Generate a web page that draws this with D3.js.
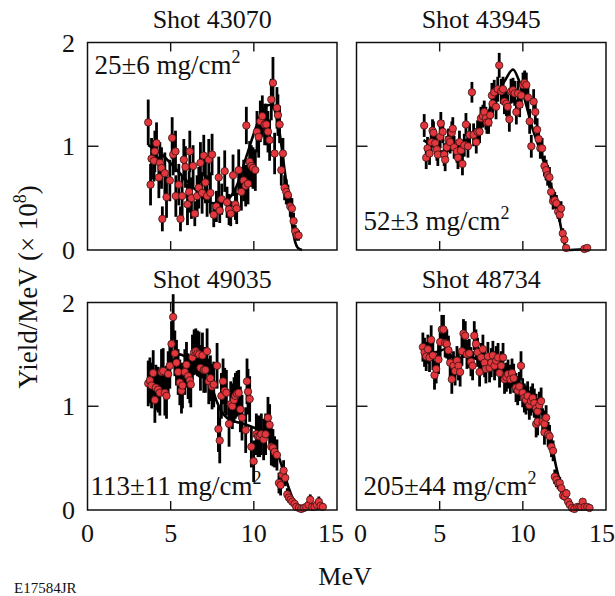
<!DOCTYPE html>
<html>
<head>
<meta charset="utf-8">
<script src="https://cdn.jsdelivr.net/npm/d3@7"></script>
<style>
  body { margin: 0; background: #fff; }
  text { font-family: "Liberation Serif", "Times New Roman", serif; fill: #111; }
</style>
</head>
<body>
<div id="chart"></div>
<script>
// panel titles and areal-density labels
const shots = ["Shot 43070", "Shot 43945", "Shot 49035", "Shot 48734"];
const densities = ["25±6", "52±3", "113±11", "205±44"];
const xTicks = [0, 5, 10, 15];
const yTicks = [0, 1, 2];

// measured points: [MeV, yield, error]
const shot43070 = [
  [3.65,1.23,0.22],[3.79,0.63,0.2],[3.85,0.88,0.2],[4.0,0.86,0.2],[4.05,0.95,0.2],[4.15,1.03,0.2],
  [4.29,0.70,0.2],[4.35,0.84,0.2],[4.45,0.79,0.2],[4.5,0.30,0.12],[4.65,0.74,0.2],[4.75,0.51,0.2],
  [4.95,0.67,0.2],[5.09,1.08,0.2],[5.15,0.92,0.2],[5.29,0.95,0.2],[5.31,0.52,0.2],[5.49,0.63,0.2],
  [5.59,0.30,0.12],[5.69,0.52,0.2],[5.79,0.87,0.2],[5.89,0.80,0.2],[6.01,0.44,0.2],[6.11,0.56,0.2],
  [6.15,0.95,0.2],[6.25,0.50,0.2],[6.35,0.81,0.2],[6.45,0.35,0.12],[6.59,0.52,0.2],[6.69,0.60,0.2],
  [6.79,0.84,0.2],[6.89,0.55,0.2],[6.99,0.91,0.2],[7.09,0.65,0.2],[7.19,0.52,0.2],[7.29,0.87,0.2],
  [7.39,0.55,0.2],[7.49,0.92,0.2],[7.59,0.34,0.12],[7.75,0.42,0.15],[7.89,0.70,0.2],[7.95,0.38,0.12],
  [8.07,0.49,0.15],[8.25,0.76,0.2],[8.39,0.46,0.15],[8.51,0.39,0.15],[8.61,0.35,0.12],[8.75,0.72,0.2],
  [8.89,0.44,0.15],[8.97,0.40,0.15],[9.09,0.77,0.2],[9.25,0.56,0.18],[9.39,0.67,0.2],[9.51,0.62,0.2],
  [9.55,1.20,0.18],[9.65,0.64,0.2],[9.75,0.85,0.2],[9.85,0.81,0.2],[9.95,0.79,0.2],[10.09,0.77,0.2],
  [10.19,1.14,0.2],[10.29,1.09,0.2],[10.39,1.24,0.2],[10.51,1.29,0.2],[10.65,1.21,0.2],[10.75,1.21,0.2],
  [10.85,1.14,0.2],[10.95,1.06,0.2],[11.05,1.45,0.2],[11.15,1.61,0.25],[11.25,0.93,0.2],[11.39,1.37,0.2],
  [11.45,1.30,0.2],[11.55,1.21,0.18],[11.65,0.77,0.15],[11.75,0.93,0.15],[11.85,0.60,0.12],[11.95,0.56,0.12],
  [12.05,0.53,0.1],[12.19,0.42,0.1],[12.29,0.40,0.1],[12.39,0.28,0.08],[12.49,0.18,0.06],[12.59,0.14,0.05],
  [12.69,0.14,0.05]
];
const shot43945 = [
  [4.07,1.20,0.11],[4.19,0.89,0.11],[4.27,0.98,0.11],[4.39,0.93,0.11],[4.49,1.04,0.11],[4.57,1.15,0.11],
  [4.63,1.13,0.11],[4.73,1.03,0.11],[4.83,0.97,0.11],[4.89,0.92,0.11],[5.03,1.09,0.11],[5.07,1.22,0.11],
  [5.19,1.14,0.11],[5.27,0.92,0.11],[5.33,0.87,0.11],[5.43,0.99,0.11],[5.53,1.06,0.11],[5.63,1.04,0.11],
  [5.73,1.13,0.11],[5.79,1.17,0.11],[5.87,0.99,0.11],[6.04,0.95,0.11],[6.10,0.89,0.11],[6.19,1.04,0.11],
  [6.28,0.96,0.11],[6.37,0.83,0.11],[6.48,1.01,0.11],[6.58,1.21,0.11],[6.70,1.00,0.11],[6.80,1.11,0.11],
  [6.94,1.52,0.1],[7.04,1.11,0.11],[7.20,1.04,0.11],[7.28,1.14,0.11],[7.40,1.14,0.11],[7.48,1.27,0.11],
  [7.60,1.29,0.11],[7.68,1.33,0.11],[7.78,1.27,0.11],[7.84,1.23,0.11],[7.94,1.23,0.11],[8.04,1.30,0.11],
  [8.14,1.49,0.12],[8.18,1.41,0.12],[8.28,1.52,0.12],[8.39,1.38,0.12],[8.49,1.55,0.12],[8.58,1.78,0.12],
  [8.70,1.53,0.12],[8.81,1.55,0.12],[8.89,1.43,0.12],[9.01,1.41,0.12],[9.09,1.38,0.12],[9.19,1.26,0.12],
  [9.29,1.53,0.12],[9.41,1.54,0.12],[9.51,1.51,0.12],[9.61,1.33,0.12],[9.71,1.51,0.12],[9.81,1.40,0.12],
  [9.91,1.49,0.12],[10.01,1.59,0.12],[10.11,1.61,0.12],[10.21,1.59,0.12],[10.31,1.47,0.12],[10.41,1.24,0.12],
  [10.51,1.00,0.11],[10.65,1.43,0.12],[10.75,1.33,0.12],[10.86,1.16,0.11],[10.95,1.07,0.11],[11.05,0.98,0.1],
  [11.16,0.98,0.1],[11.30,0.81,0.1],[11.40,0.77,0.1],[11.49,0.72,0.1],[11.60,0.70,0.1],[11.70,0.56,0.09],
  [11.82,0.47,0.08],[11.92,0.48,0.08],[12.02,0.45,0.08],[12.12,0.37,0.07],[12.22,0.34,0.07],[12.30,0.40,0.07],
  [12.40,0.16,0.05],[12.50,0.10,0.04],[12.60,0.02,0.02],[13.70,0.01,0.02],[13.87,0.02,0.02]
];
const shot49035 = [
  [3.65,1.22,0.22],[3.75,1.25,0.22],[3.85,1.20,0.22],[3.95,1.32,0.22],[4.05,1.06,0.22],[4.11,1.18,0.22],
  [4.25,1.16,0.22],[4.35,1.13,0.22],[4.45,1.33,0.22],[4.55,1.34,0.22],[4.65,1.13,0.22],[4.75,1.10,0.22],
  [4.85,1.31,0.22],[4.95,1.39,0.22],[5.05,1.60,0.22],[5.15,1.86,0.22],[5.25,1.51,0.22],[5.35,1.42,0.22],
  [5.45,1.33,0.22],[5.55,1.23,0.22],[5.65,1.15,0.22],[5.71,1.20,0.22],[5.85,1.33,0.22],[5.95,1.40,0.22],
  [6.05,1.29,0.22],[6.15,1.25,0.22],[6.21,1.21,0.22],[6.31,1.47,0.22],[6.41,1.52,0.22],[6.51,1.53,0.22],
  [6.61,1.51,0.22],[6.71,1.50,0.22],[6.79,1.37,0.22],[6.91,1.49,0.22],[6.99,1.35,0.22],[7.09,1.35,0.22],
  [7.19,1.53,0.22],[7.29,1.24,0.22],[7.39,1.27,0.22],[7.49,1.19,0.22],[7.59,1.21,0.22],[7.79,1.39,0.22],
  [7.87,0.78,0.22],[7.95,0.67,0.22],[8.05,1.10,0.22],[8.15,1.24,0.22],[8.25,1.15,0.22],[8.35,1.13,0.22],
  [8.51,0.83,0.22],[8.61,1.02,0.22],[8.71,1.00,0.22],[8.81,1.06,0.22],[8.89,1.10,0.22],[8.99,1.12,0.22],
  [9.09,1.13,0.22],[9.19,0.97,0.22],[9.29,0.89,0.22],[9.51,0.77,0.22],[9.59,1.24,0.22],[9.65,1.14,0.22],
  [9.75,1.07,0.22],[9.85,0.61,0.2],[9.99,0.47,0.2],[10.15,0.73,0.2],[10.25,0.71,0.2],[10.35,0.71,0.2],
  [10.45,0.73,0.2],[10.59,0.68,0.2],[10.71,0.73,0.2],[10.85,0.89,0.2],[10.95,0.82,0.2],[11.05,0.61,0.18],
  [11.15,0.60,0.18],[11.25,0.56,0.15],[11.39,0.53,0.15],[11.51,0.26,0.1],[11.61,0.24,0.1],[11.71,0.34,0.1],
  [11.79,0.38,0.1],[11.89,0.31,0.08],[12.01,0.15,0.06],[12.11,0.12,0.05],[12.21,0.10,0.04],[12.31,0.08,0.04],
  [12.45,0.06,0.03],[12.55,0.03,0.03],[12.71,0.02,0.03],[12.85,0.01,0.03],[13.01,0.02,0.03],[13.15,0.03,0.03],
  [13.29,0.05,0.04],[13.39,0.10,0.05],[13.51,0.03,0.03],[13.65,0.03,0.03],[13.79,0.05,0.04],[13.91,0.08,0.05],
  [14.01,0.04,0.03],[14.15,0.03,0.03]
];
const shot48734 = [
  [3.99,1.57,0.14],[4.09,1.52,0.14],[4.19,1.48,0.14],[4.29,1.55,0.14],[4.39,1.47,0.14],[4.49,1.64,0.14],
  [4.59,1.49,0.14],[4.69,1.30,0.14],[4.79,1.36,0.14],[4.93,1.45,0.14],[5.03,1.62,0.14],[5.13,1.74,0.14],
  [5.23,1.74,0.14],[5.33,1.61,0.14],[5.43,1.60,0.14],[5.53,1.54,0.14],[5.63,1.42,0.14],[5.73,1.26,0.14],
  [5.83,1.39,0.14],[5.93,1.34,0.14],[6.04,1.44,0.14],[6.13,1.39,0.14],[6.23,1.33,0.14],[6.34,1.53,0.14],
  [6.43,1.70,0.14],[6.54,1.68,0.14],[6.64,1.50,0.14],[6.78,1.51,0.14],[6.88,1.43,0.14],[6.98,1.39,0.14],
  [7.08,1.68,0.14],[7.18,1.60,0.14],[7.28,1.52,0.14],[7.40,1.33,0.14],[7.50,1.47,0.14],[7.60,1.55,0.14],
  [7.70,1.42,0.14],[7.78,1.36,0.14],[7.90,1.48,0.14],[8.00,1.37,0.14],[8.10,1.42,0.14],[8.20,1.49,0.14],
  [8.30,1.39,0.14],[8.40,1.44,0.14],[8.51,1.47,0.14],[8.60,1.32,0.14],[8.70,1.39,0.14],[8.81,1.47,0.14],
  [8.90,1.26,0.14],[9.01,1.28,0.14],[9.11,1.31,0.14],[9.25,1.26,0.14],[9.35,1.32,0.14],[9.45,1.27,0.14],
  [9.59,1.18,0.14],[9.69,1.15,0.14],[9.79,1.19,0.14],[9.89,1.39,0.14],[9.99,1.13,0.14],[10.09,1.08,0.14],
  [10.19,1.06,0.14],[10.29,1.10,0.14],[10.39,1.01,0.14],[10.49,1.05,0.14],[10.59,1.08,0.14],[10.69,1.03,0.14],
  [10.80,0.98,0.14],[10.80,0.83,0.13],[10.89,0.95,0.13],[10.89,0.85,0.13],[10.99,1.01,0.13],[11.10,1.05,0.13],
  [11.19,0.85,0.13],[11.30,0.83,0.13],[11.30,0.75,0.12],[11.40,0.89,0.12],[11.52,0.73,0.12],[11.61,0.71,0.11],
  [11.72,0.61,0.1],[11.82,0.57,0.1],[11.92,0.32,0.07],[12.02,0.29,0.07],[12.12,0.26,0.06],[12.22,0.26,0.06],
  [12.32,0.21,0.05],[12.42,0.14,0.04],[12.52,0.13,0.04],[12.62,0.16,0.04],[12.72,0.08,0.03],[12.82,0.05,0.03],
  [12.96,0.02,0.02],[13.10,0.01,0.02],[13.27,0.03,0.02],[13.40,0.03,0.02],[13.51,0.03,0.02],[13.60,0.08,0.03],
  [13.72,0.03,0.02],[13.87,0.03,0.02],[14.01,0.02,0.02]
];

// fitted spectra: [MeV, yield]
const fit43070 = [[3.65,1.01],[4.4,0.93],[5.55,0.74],[6.5,0.58],[7.55,0.45],[8.35,0.48],[8.95,0.61],[9.55,0.90],
  [10.15,1.19],[10.65,1.37],[10.95,1.40],[11.25,1.35],[11.55,1.13],[11.85,0.77],[12.15,0.42],[12.45,0.10],[12.65,0.02],[12.9,0.0]];
const fit43945 = [[4.03,1.06],[4.6,1.0],[5.13,0.95],[6.13,1.0],[7.34,1.19],[8.34,1.45],[8.95,1.64],[9.41,1.74],[9.75,1.64],
  [10.15,1.43],[10.55,1.19],[10.95,1.0],[11.36,0.80],[11.76,0.58],[12.16,0.32],[12.56,0.03],[12.66,0.0],[13.77,0.01]];
const fit49035 = [[3.65,1.23],[4.35,1.34],[4.95,1.40],[5.55,1.50],[5.95,1.47],[6.35,1.42],[6.55,1.47],[6.95,1.40],[7.35,1.29],
  [7.55,1.15],[7.95,0.98],[8.55,0.87],[9.15,0.84],[9.75,0.81],[10.35,0.77],[10.95,0.71],[11.35,0.58],[11.75,0.39],
  [12.15,0.19],[12.51,0.05],[12.85,0.01],[14.15,0.01]];
const fit48734 = [[3.93,1.57],[4.73,1.52],[5.33,1.55],[5.93,1.45],[6.54,1.48],[7.34,1.45],[8.14,1.42],[8.95,1.34],[9.55,1.26],
  [10.15,1.16],[10.75,1.05],[11.16,0.94],[11.46,0.77],[11.76,0.61],[12.0,0.42],[12.26,0.26],[12.56,0.10],[12.86,0.02],[14.07,0.01]];

const points = [shot43070, shot43945, shot49035, shot48734];
const fits = [fit43070, fit43945, fit49035, fit48734];

const W = 615, H = 596;
const pw = 249.5, ph = 207.5;
const lefts = [87.5, 356.5], tops = [42.5, 302.5];
// where the density label sits: [dx from left, baseline dy from top]
const labelPos = [[7, 31], [7, 187], [3, 192], [7, 192]];

const svg = d3.select("#chart").append("svg")
  .attr("width", W).attr("height", H);

const x = d3.scaleLinear().domain([0, 15]).range([0, pw]);
const y = d3.scaleLinear().domain([0, 2]).range([ph, 0]);

// nudge the end labels apart where the two bottom panels meet
function tickLabelX(d, col) {
  if (col === 0 && d === 15) return x(d) - 6;
  if (col === 1 && d === 0) return x(d) + 4;
  if (col === 1 && d === 15) return x(d) - 4;
  return x(d);
}

shots.forEach((name, i) => {
  const col = i % 2, row = Math.floor(i / 2);
  const g = svg.append("g")
    .attr("transform", `translate(${lefts[col]},${tops[row]})`);

  // inward ticks on every side
  const tickLen = 9;
  [5, 10].forEach(t => {
    g.append("line").attr("x1", x(t)).attr("x2", x(t)).attr("y1", ph).attr("y2", ph - tickLen)
      .attr("stroke", "#111").attr("stroke-width", 1.4);
    g.append("line").attr("x1", x(t)).attr("x2", x(t)).attr("y1", 0).attr("y2", tickLen)
      .attr("stroke", "#111").attr("stroke-width", 1.4);
  });
  g.append("line").attr("x1", 0).attr("x2", tickLen + 2).attr("y1", y(1)).attr("y2", y(1))
    .attr("stroke", "#111").attr("stroke-width", 1.4);
  g.append("line").attr("x1", pw).attr("x2", pw - tickLen - 2).attr("y1", y(1)).attr("y2", y(1))
    .attr("stroke", "#111").attr("stroke-width", 1.4);

  // error bars
  g.append("g").selectAll("line")
    .data(points[i]).enter().append("line")
    .attr("x1", d => x(d[0])).attr("x2", d => x(d[0]))
    .attr("y1", d => y(Math.max(0, d[1] - d[2]))).attr("y2", d => y(d[1] + d[2]))
    .attr("stroke", "#000").attr("stroke-width", 2.8);

  // fitted line
  g.append("path")
    .datum(fits[i])
    .attr("fill", "none").attr("stroke", "#000").attr("stroke-width", 2.6)
    .attr("d", d3.line().x(d => x(d[0])).y(d => y(d[1])).curve(d3.curveMonotoneX));

  // data points
  g.append("g").selectAll("circle")
    .data(points[i]).enter().append("circle")
    .attr("cx", d => x(d[0])).attr("cy", d => y(d[1]))
    .attr("r", 3.7)
    .attr("fill", "#e3363d").attr("stroke", "#3a1414").attr("stroke-width", 0.8);

  // frame
  g.append("rect").attr("width", pw).attr("height", ph)
    .attr("fill", "none").attr("stroke", "#111").attr("stroke-width", 1.5);

  // title
  g.append("text").attr("x", pw / 2).attr("y", -15)
    .attr("text-anchor", "middle").attr("font-size", 26).text(name);

  // density label
  const lab = g.append("text")
    .attr("x", labelPos[i][0]).attr("y", labelPos[i][1])
    .attr("font-size", 27);
  lab.append("tspan").text(densities[i] + " mg/cm");
  lab.append("tspan").attr("dy", -11).attr("font-size", 18).text("2");

  // tick labels
  if (row === 1) {
    g.selectAll(".xl").data(xTicks).enter().append("text")
      .attr("x", d => tickLabelX(d, col)).attr("y", ph + 32)
      .attr("text-anchor", "middle").attr("font-size", 26).text(d => d);
  }
  if (col === 0) {
    g.selectAll(".yl").data(yTicks).enter().append("text")
      .attr("x", -19).attr("y", d => y(d) + 9)
      .attr("text-anchor", "middle").attr("font-size", 26).text(d => d);
  }
});

// axis titles
svg.append("text").attr("x", 345).attr("y", 585)
  .attr("text-anchor", "middle").attr("font-size", 26).text("MeV");

const yl = svg.append("text")
  .attr("transform", "translate(37,287) rotate(-90)")
  .attr("text-anchor", "middle").attr("font-size", 27);
yl.append("tspan").text("Yield/MeV (× 10");
yl.append("tspan").attr("dy", -11).attr("font-size", 18).text("8");
yl.append("tspan").attr("dy", 11).text(")");

svg.append("text").attr("x", 14).attr("y", 593)
  .attr("font-size", 15).text("E17584JR");
</script>
</body>
</html>
